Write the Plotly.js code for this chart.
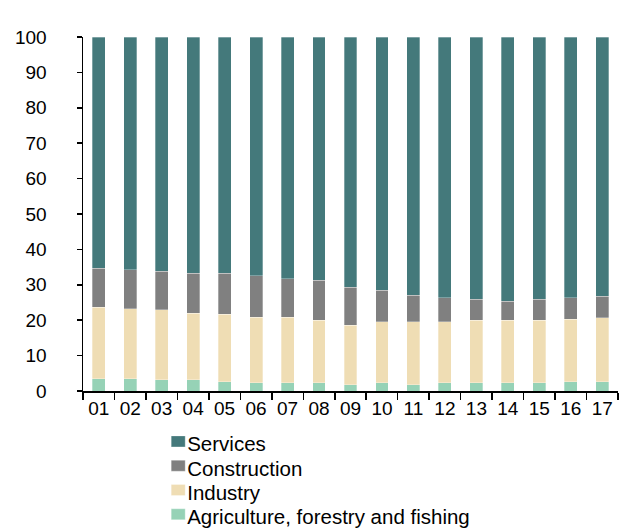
<!DOCTYPE html>
<html>
<head>
<meta charset="utf-8">
<script src="https://cdn.plot.ly/plotly-3.0.1.min.js"></script>
<style>html,body{margin:0;padding:0;background:#fff;}#chart{width:628px;height:530px;}</style>
</head>
<body>
<div id="chart"></div>
<script>
var years = ["01","02","03","04","05","06","07","08","09","10","11","12","13","14","15","16","17"];
var agriculture = [3.5,3.5,3.2,3.2,2.6,2.3,2.3,2.3,1.8,2.3,1.8,2.3,2.3,2.3,2.3,2.6,2.6];
var industry = [20.1,19.8,19.7,18.8,19.1,18.5,18.5,17.7,16.8,17.3,17.8,17.3,17.7,17.7,17.7,17.7,18.1];
var construction = [11.1,10.9,10.9,11.3,11.6,11.8,10.9,11.3,10.7,8.8,7.5,6.7,5.9,5.3,5.9,6.0,6.1];
var services = [65.3,65.8,66.2,66.7,66.7,67.4,68.3,68.7,70.7,71.6,72.9,73.7,74.1,74.7,74.1,73.7,73.2];

var names = ["Agriculture, forestry and fishing","Industry","Construction","Services"];
var colors = ["#96d2b6","#efddb4","#808080","#44797b"];
var series = [agriculture, industry, construction, services];

var traces = series.map(function(v,i){
  return {type:"bar", x:years, y:v, name:names[i],
    marker:{color:colors[i], line:{color:"rgba(255,255,255,0.6)", width:0.5}}};
});

var layout = {
  width:628, height:530,
  margin:{l:83, r:10, t:37, b:139, autoexpand:false},
  barmode:"stack", bargap:0.59,
  paper_bgcolor:"#fff", plot_bgcolor:"#fff",
  font:{family:"Liberation Sans, Arial, sans-serif", size:19, color:"#000"},
  showlegend:true,
  legend:{orientation:"v", traceorder:"reversed", x:0.12, xanchor:"left", y:-0.092, yanchor:"top",
    font:{size:20.5}, tracegroupgap:0, itemclick:false},
  xaxis:{type:"category", showline:true, linecolor:"#000", linewidth:1.5,
    ticks:"outside", tickson:"boundaries", ticklen:7, tickcolor:"#000", tickwidth:1.5,
    showgrid:false, zeroline:false},
  yaxis:{range:[0,100], dtick:10, showline:true, linecolor:"#000", linewidth:1.5,
    ticks:"outside", ticklen:5, tickcolor:"#000", tickwidth:1.5, ticklabelstandoff:26,
    showgrid:false, zeroline:false}
};
Plotly.newPlot("chart", traces, layout, {displayModeBar:false, staticPlot:true}).then(function(gd){
  var items = gd.querySelectorAll(".legend .traces");
  var y0 = null;
  items.forEach(function(el, i){
    var t = el.getAttribute("transform") || "";
    var m = /translate\(([-\d.]+)[ ,]*([-\d.]+)?\)/.exec(t);
    var tx = m ? parseFloat(m[1]) : 0;
    var ty = m && m[2] ? parseFloat(m[2]) : 0;
    if (y0 === null) y0 = ty;
    el.setAttribute("transform", "translate(" + tx + "," + (y0 + i*24.3) + ")");
    var pts = el.querySelectorAll(".legendpoints path");
    pts.forEach(function(p){
      p.setAttribute("d", "M7,5.5H-7V-5.5H7Z");
      p.setAttribute("transform", "translate(31,-2)");
    });
  });
});
</script>
</body>
</html>
